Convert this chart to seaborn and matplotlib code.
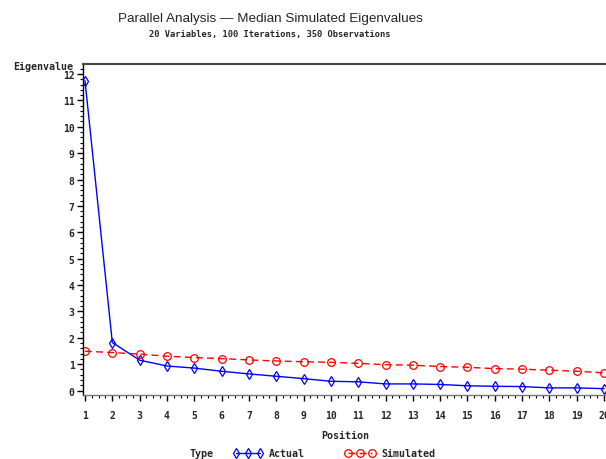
import numpy as np
import pandas as pd
import matplotlib
matplotlib.use('Agg')
import matplotlib.pyplot as plt
import seaborn as sns
from matplotlib.ticker import MultipleLocator

# values
position = list(range(1, 21))
actual = [11.75, 1.82, 1.15, 0.93, 0.85, 0.73, 0.63, 0.54, 0.45, 0.35,
          0.33, 0.25, 0.25, 0.23, 0.18, 0.16, 0.15, 0.10, 0.10, 0.07]
simulated = [1.49, 1.44, 1.38, 1.30, 1.25, 1.21, 1.16, 1.12, 1.09, 1.07,
             1.03, 0.98, 0.96, 0.91, 0.88, 0.83, 0.81, 0.77, 0.73, 0.67]
type_labels = ['Actual', 'Simulated']

title = 'Parallel Analysis \u2014 Median Simulated Eigenvalues'
subtitle = '20 Variables, 100 Iterations, 350 Observations'

df = pd.DataFrame({
    'Position': position * 2,
    'Eigenvalue': actual + simulated,
    'Type': [type_labels[0]] * len(position) + [type_labels[1]] * len(position),
})

sns.set_style('white')
mono = ['DejaVu Sans Mono']

fig = plt.figure(figsize=(6.06, 4.6), dpi=100)
W, H = 606, 460
ax = fig.add_axes([83 / W, (H - 396) / H, (606 - 83) / W, (396 - 65) / H])

sns.lineplot(data=df, x='Position', y='Eigenvalue', hue='Type', style='Type',
             palette={'Actual': '#0000ff', 'Simulated': '#ff0000'},
             markers={'Actual': 'd', 'Simulated': 'o'},
             dashes={'Actual': '', 'Simulated': (5, 3)},
             markersize=5, markerfacecolor='none', markeredgewidth=0.9,
             linewidth=1.0, ax=ax)

# hollow markers with the line colour
sizes = {'Actual': 5, 'Simulated': 5.5}
for line, name in zip(ax.lines, type_labels):
    line.set_markeredgecolor(line.get_color())
    line.set_markerfacecolor('none')
    line.set_markersize(sizes[name])

handles, labels = ax.get_legend_handles_labels()
ax.get_legend().remove()
for h, name in zip(handles, labels):
    h.set_markeredgecolor(h.get_color())
    h.set_markerfacecolor('none')
    h.set_markersize(sizes.get(name, 5))

ax.set_xlim(0.927, 20.07)
ax.set_ylim(-0.17, 12.38)
ax.xaxis.set_major_locator(MultipleLocator(1))
ax.xaxis.set_minor_locator(MultipleLocator(0.25))
ax.yaxis.set_major_locator(MultipleLocator(1))
ax.yaxis.set_minor_locator(MultipleLocator(0.2))

ax.tick_params(axis='both', which='major', direction='out', length=4, width=1,
               color='black', bottom=True, left=True)
ax.tick_params(axis='both', which='minor', direction='out', length=2.5, width=0.8,
               color='black', bottom=True, left=True)
ax.tick_params(axis='x', which='major', pad=7)
ax.tick_params(axis='y', which='major', pad=2)
for lab in ax.get_xticklabels() + ax.get_yticklabels():
    lab.set_family(mono)
    lab.set_fontweight('bold')
    lab.set_fontsize(7)

ax.set_xlabel('')
ax.set_ylabel('')
ax.spines['right'].set_visible(False)
ax.spines['top'].set_color('#444444')
ax.spines['top'].set_linewidth(1.5)
ax.spines['left'].set_color('black')
ax.spines['left'].set_linewidth(1.0)
ax.spines['bottom'].set_color('#777777')
ax.spines['bottom'].set_linewidth(1.0)

fig.text(270 / W, 1 - 19 / H, title, ha='center', va='center', fontsize=9.7,
         family=['Liberation Sans', 'DejaVu Sans'])
fig.text(270 / W, 1 - 35 / H, subtitle, ha='center', va='center', fontsize=6.3,
         family=mono, fontweight='bold')
fig.text(13 / W, 1 - 67 / H, 'Eigenvalue', ha='left', va='center', fontsize=7.2,
         family=mono, fontweight='bold')
fig.text(345 / W, 1 - 436 / H, 'Position', ha='center', va='center', fontsize=7.2,
         family=mono, fontweight='bold')
fig.text(190 / W, 1 - 454 / H, 'Type', ha='left', va='center', fontsize=7.2,
         family=mono, fontweight='bold')

fig.legend(handles, labels, loc='center left', bbox_to_anchor=(233 / W, 1 - 454 / H),
           ncol=2, frameon=False, numpoints=3, handlelength=3.0, handletextpad=0.6,
           columnspacing=4.0, borderpad=0, borderaxespad=0,
           prop={'family': mono, 'weight': 'bold', 'size': 7.2})

fig.savefig('out.png', dpi=100)
